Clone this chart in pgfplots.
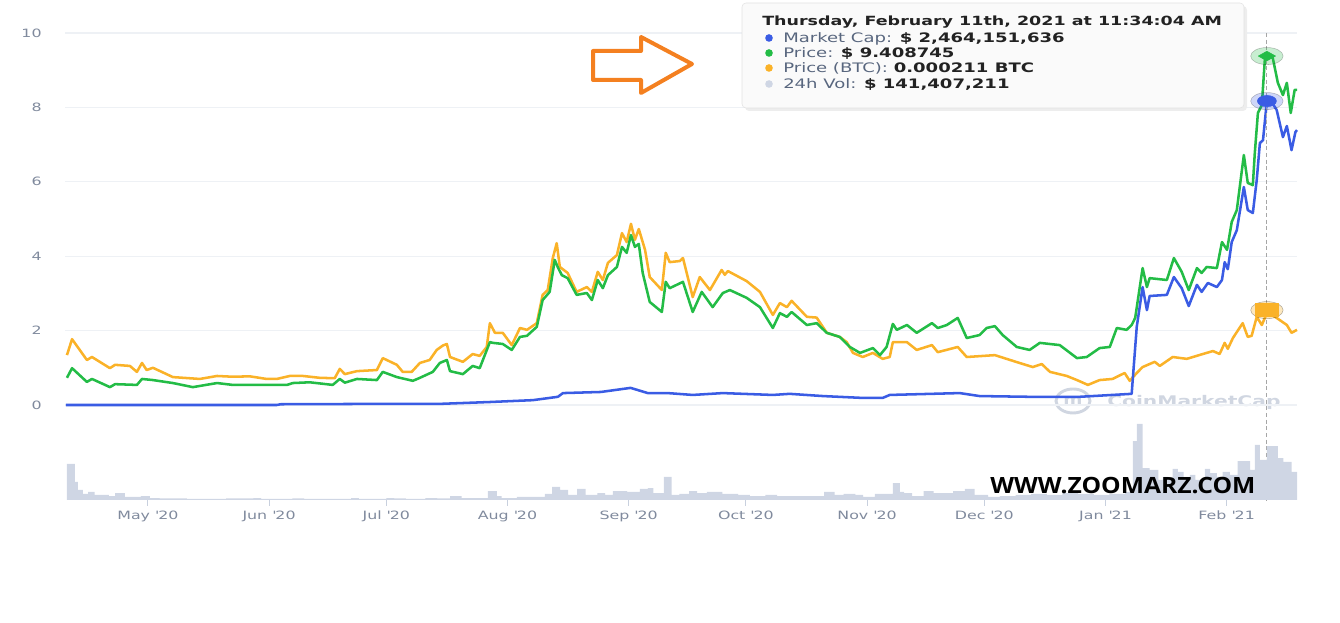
\documentclass[border=0pt]{standalone}
\usepackage{pgfplots}
\pgfplotsset{compat=1.18}
\usepackage{fontspec}
\setmainfont{DejaVu Sans}
\newfontfamily\cmc[FakeStretch=1.38]{DejaVu Sans}
\newfontfamily\zoomfont[FakeStretch=1.1]{Open Sans}
\definecolor{cblue}{RGB}{58,92,228}
\definecolor{cgreen}{RGB}{35,188,70}
\definecolor{corange}{RGB}{250,178,40}
\definecolor{cvol}{RGB}{207,214,228}
\definecolor{cgrid}{RGB}{238,241,245}
\definecolor{ctick}{RGB}{128,138,157}
\definecolor{ctickline}{RGB}{200,208,222}
\definecolor{carrow}{RGB}{244,128,32}
\definecolor{clab}{RGB}{88,102,126}
\definecolor{cval}{RGB}{34,34,34}
\definecolor{cwm}{RGB}{208,214,225}
\begin{document}
\begin{tikzpicture}
% 1 px of the reference = 0.75pt
\begin{scope}[x=0.75pt,y=0.75pt]
\path[use as bounding box] (0,0) rectangle (1340,623);
% CoinMarketCap watermark (behind the lines)
\draw[cwm, line width=2.2pt] (1073,222) ellipse [x radius=17, y radius=12];
\node[anchor=center, inner sep=0, text=cwm, font=\cmc\fontsize{10}{11}\selectfont\bfseries] at (1073,222) {m};
\node[anchor=west, inner sep=0, text=cwm, font=\cmc\fontsize{11}{12}\selectfont\bfseries] at (1107,221) {CoinMarketCap};
\end{scope}

% price chart (days counted from 1 May 2020)
\begin{axis}[
  at={(48.75pt,163.5pt)}, anchor=south west,
  scale only axis, width=924pt, height=279pt,
  xmin=-21.2, xmax=294, ymin=0, ymax=10,
  ytick={0,2,...,10}, xtick=\empty,
  ymajorgrids, grid style={draw=cgrid, line width=0.8pt},
  axis line style={draw=none}, tick style={draw=none},
  /pgf/number format/assume math mode=true,
  yticklabel style={font=\cmc\fontsize{8.6}{10}\selectfont, text=ctick, xshift=-14pt},
  clip=false,
  every axis plot post/.append style={line join=round},
]
\addplot[corange, line width=1.9pt] coordinates {
(-20.7,1.34) (-19.4,1.77) (-15.6,1.21) (-14.3,1.29) (-9.7,0.99) (-8.4,1.08) (-4.6,1.05) (-2.8,0.89) (-1.5,1.13) (-0.3,0.94) (1.3,1.00) (6.4,0.75) (13.3,0.70) (17.7,0.78) (21.7,0.76) (26.1,0.77) (30.4,0.70) (33.0,0.70) (36.3,0.78) (39.7,0.78) (44.0,0.73) (47.8,0.72) (49.1,0.97) (50.4,0.83) (53.5,0.91) (58.6,0.94) (60.1,1.26) (63.7,1.08) (65.2,0.89) (67.5,0.89) (69.6,1.13) (72.1,1.21) (73.9,1.48) (75.5,1.60) (76.5,1.64) (77.3,1.29) (80.6,1.16) (83.1,1.37) (84.9,1.32) (86.7,1.56) (87.5,2.20) (88.8,1.94) (90.8,1.94) (93.1,1.61) (95.2,2.07) (97.0,2.02) (99.5,2.20) (101.0,2.96) (102.3,3.09) (103.6,3.95) (104.6,4.35) (105.4,3.71) (107.4,3.55) (109.7,3.04) (112.3,3.17) (113.6,3.04) (115.1,3.58) (116.4,3.36) (117.7,3.82) (120.0,4.03) (121.3,4.62) (122.5,4.38) (123.6,4.87) (124.6,4.44) (125.6,4.73) (127.2,4.17) (128.4,3.44) (131.5,3.09) (132.5,4.09) (133.5,3.84) (136.1,3.87) (136.9,3.95) (139.4,2.90) (141.2,3.44) (143.8,3.09) (146.8,3.63) (147.6,3.50) (148.4,3.60) (153.2,3.33) (156.6,3.04) (159.9,2.42) (161.7,2.74) (163.5,2.63) (164.7,2.80) (168.6,2.37) (171.1,2.35) (173.7,1.94) (177.0,1.83) (178.8,1.69) (180.4,1.40) (182.9,1.29) (185.5,1.40) (188.0,1.24) (189.8,1.29) (190.6,1.69) (194.2,1.69) (196.7,1.48) (200.6,1.61) (202.1,1.42) (207.2,1.56) (209.5,1.29) (216.7,1.34) (223.0,1.13) (226.4,1.02) (228.7,1.10) (230.8,0.89) (235.1,0.78) (237.7,0.67) (240.5,0.54) (243.5,0.67) (246.8,0.70) (249.9,0.86) (251.2,0.65) (253.0,0.86) (254.5,1.02) (257.6,1.16) (258.9,1.05) (262.2,1.29) (265.8,1.24) (269.9,1.37) (272.5,1.45) (274.2,1.37) (275.5,1.67) (276.3,1.51) (277.6,1.80) (280.1,2.20) (281.4,1.83) (282.4,1.86) (283.7,2.37) (285.0,2.15) (286.3,2.47) (287.5,2.42) (288.8,2.34) (291.4,2.15) (292.6,1.94) (294.0,2.02)
};
\addplot[cgreen, line width=1.9pt] coordinates {
(-20.7,0.73) (-19.4,0.99) (-15.6,0.62) (-14.3,0.70) (-9.7,0.48) (-8.4,0.56) (-2.8,0.54) (-1.5,0.70) (1.3,0.67) (6.4,0.59) (11.5,0.48) (17.7,0.59) (21.7,0.54) (30.4,0.54) (35.6,0.54) (37.1,0.59) (41.4,0.61) (47.3,0.54) (49.1,0.70) (50.4,0.60) (53.5,0.70) (58.6,0.67) (60.1,0.89) (63.7,0.75) (67.8,0.65) (69.6,0.73) (72.9,0.89) (74.7,1.13) (76.5,1.21) (77.3,0.91) (80.6,0.83) (83.1,1.05) (84.9,0.99) (87.5,1.69) (88.3,1.67) (90.8,1.64) (93.1,1.48) (95.2,1.83) (97.0,1.86) (99.5,2.10) (101.0,2.82) (102.8,3.04) (104.1,3.90) (104.9,3.70) (105.9,3.49) (107.4,3.41) (109.7,2.96) (112.3,3.01) (113.6,2.82) (115.1,3.36) (116.4,3.14) (117.7,3.49) (120.0,3.71) (121.3,4.25) (122.5,4.09) (123.6,4.57) (124.6,4.25) (125.6,4.33) (126.6,3.55) (128.4,2.77) (131.5,2.50) (132.5,3.31) (133.5,3.14) (136.9,3.31) (139.4,2.50) (141.7,3.04) (144.5,2.63) (147.1,3.01) (148.9,3.09) (153.2,2.88) (156.6,2.63) (159.9,2.07) (161.7,2.47) (163.5,2.37) (164.7,2.50) (168.6,2.15) (171.1,2.20) (173.7,1.94) (177.0,1.83) (179.6,1.56) (182.2,1.40) (185.5,1.53) (187.3,1.34) (189.0,1.56) (190.6,2.18) (191.6,2.02) (194.2,2.15) (196.7,1.94) (200.6,2.20) (202.1,2.07) (204.4,2.15) (207.2,2.34) (209.5,1.80) (212.8,1.88) (214.6,2.07) (216.7,2.12) (218.7,1.88) (222.3,1.56) (225.6,1.48) (228.2,1.67) (233.3,1.61) (237.7,1.26) (240.2,1.29) (243.5,1.53) (246.1,1.56) (247.9,2.07) (250.4,2.02) (251.7,2.15) (252.6,2.34) (254.5,3.68) (255.6,3.17) (256.3,3.41) (260.7,3.36) (262.5,3.95) (264.5,3.58) (266.3,3.09) (268.4,3.68) (269.6,3.55) (270.9,3.71) (273.5,3.68) (274.8,4.38) (276.1,4.17) (277.3,4.92) (278.6,5.24) (280.4,6.72) (281.4,5.97) (282.7,5.91) (283.2,6.77) (284.0,7.85) (285.0,8.06) (285.8,9.33) (286.6,9.38) (287.8,9.33) (289.1,8.66) (290.4,8.33) (291.4,8.66) (292.4,7.85) (293.4,8.47) (294.0,8.47)
};
\addplot[cblue, line width=1.9pt] coordinates {
(-21.0,0.0) (33.0,0.0) (34.0,0.02) (60,0.03) (74.7,0.03) (87.5,0.08) (98.5,0.13) (104.9,0.22) (106.2,0.32) (115.9,0.35) (123.5,0.46) (127.9,0.32) (133.0,0.32) (139.4,0.27) (147.1,0.32) (159.9,0.27) (164.2,0.30) (172.7,0.24) (182.9,0.19) (188.0,0.19) (189.8,0.27) (207.7,0.32) (212.8,0.24) (225.6,0.22) (238.4,0.22) (251.7,0.30) (253.0,2.10) (254.5,3.17) (255.6,2.55) (256.3,2.93) (260.7,2.96) (262.5,3.44) (264.5,3.14) (266.3,2.66) (268.4,3.23) (269.6,3.04) (271.2,3.28) (273.5,3.17) (274.8,3.36) (275.5,3.84) (276.3,3.65) (277.3,4.38) (278.6,4.70) (280.4,5.86) (281.4,5.24) (282.7,5.16) (283.7,6.05) (284.5,7.04) (285.3,7.12) (286.3,8.17) (287.5,8.15) (288.8,7.93) (290.4,7.20) (291.4,7.50) (292.6,6.85) (293.6,7.34) (294.0,7.39)
};
% hover line and highlighted points (11 Feb 2021)
\addplot[gray!70, line width=0.7pt, dash pattern=on 3pt off 2pt] coordinates {(286.3,10) (286.3,-2.55)};
\addplot[only marks, mark=*, mark size=6.4pt, mark options={xscale=1.9, fill=cgreen, draw=none, opacity=0.25}] coordinates {(286.3,9.38)};
\addplot[only marks, mark=diamond*, mark size=3.6pt, mark options={xscale=2.4, fill=cgreen, draw=cgreen}] coordinates {(286.3,9.38)};
\addplot[only marks, mark=*, mark size=6.4pt, mark options={xscale=1.9, fill=cblue, draw=none, opacity=0.25}] coordinates {(286.3,8.17)};
\addplot[only marks, mark=*, mark size=4.2pt, mark options={xscale=1.7, fill=cblue, draw=cblue}] coordinates {(286.3,8.17)};
\addplot[only marks, mark=*, mark size=6.4pt, mark options={xscale=1.9, fill=corange, draw=none, opacity=0.3}] coordinates {(286.3,2.55)};
\addplot[only marks, mark=square*, mark size=4.9pt, mark options={xscale=1.75, fill=corange, draw=corange}] coordinates {(286.3,2.55)};
\end{axis}

% 24h volume
\begin{axis}[
  at={(48.75pt,92.25pt)}, anchor=south west,
  scale only axis, width=924pt, height=60pt,
  xmin=-21.2, xmax=294, ymin=0, ymax=208,
  ytick=\empty,
  xtick={0,31,61,92,123,153,184,214,245,276},
  xticklabels={May \textquotesingle20, Jun \textquotesingle20, Jul \textquotesingle20, Aug \textquotesingle20, Sep \textquotesingle20, Oct \textquotesingle20, Nov \textquotesingle20, Dec \textquotesingle20, Jan \textquotesingle21, Feb \textquotesingle21},
  xtick pos=left, tick align=outside, major tick length=4.5pt,
  tick style={draw=ctickline, line width=0.8pt},
  axis line style={draw=none},
  xticklabel style={font=\cmc\fontsize{8.6}{10}\selectfont, text=ctick},
]
\addplot[const plot, fill=cvol, draw=none] coordinates {
(-20.7,94) (-18.7,47) (-17.9,26) (-16.6,16) (-15.3,21) (-13.6,13) (-10,10) (-8.4,18) (-5.9,8) (-1.8,10) (0.5,5) (3,4) (10,3) (20,4) (27,5) (29,3) (37,4) (40,3) (48,3) (52,5) (54,3) (61,5) (63,4) (66,3) (71,5) (74,4) (77.3,10) (80.3,5) (83.7,5) (87,23) (89.3,10) (90.5,5) (94.4,8) (98.5,8) (101.6,16) (103.4,34) (105.5,26) (107.5,13) (109.8,29) (112,13) (115,18) (117,13) (119,23) (122.6,21) (125.9,29) (127.9,31) (129.3,18) (132,60) (134,13) (136,16) (138.5,23) (140.5,18) (143,21) (147,16) (151,13) (154,10) (158,13) (161,10) (165,10) (169,10) (173,21) (175.7,13) (178,16) (181,13) (183,8) (186,16) (189.5,16) (190.6,44) (192.4,21) (193.5,18) (195.5,10) (198.5,23) (201,18) (206,23) (209,29) (211.5,13) (215,8) (218,10) (222,13) (226,16) (230,13) (234,18) (238,16) (242,13) (246,16) (250,21) (252,153) (253,198) (254.5,83) (256.3,78) (258.5,52) (259.7,60) (261,52) (262.2,81) (263.5,73) (265,60) (266.6,65) (268,52) (270.4,81) (271.8,70) (273.5,60) (275,73) (276.8,65) (278.8,101) (282,78) (283.2,143) (284.5,104) (286.3,140) (289.1,109) (290.5,99) (292.6,73) (294,73)
} \closedcycle;
\end{axis}

\begin{scope}[x=0.75pt,y=0.75pt]
% tooltip
\fill[black!7, rounded corners=3] (745,512) rectangle (1247,617);
\filldraw[fill={rgb,255:red,250;green,250;blue,250}, draw={rgb,255:red,226;green,226;blue,226}, rounded corners=3] (742,515) rectangle (1244,620);
\node[anchor=base west, inner sep=0, text=cval, font=\cmc\fontsize{9.5}{12}\selectfont\bfseries] at (762,597) {Thursday, February 11th, 2021 at 11:34:04 AM};
\fill[cblue] (769,585) circle[radius=3.8];
\fill[cgreen] (769,570) circle[radius=3.8];
\fill[corange] (769,555) circle[radius=3.8];
\fill[cvol] (769,539) circle[radius=3.8];
\node[anchor=base west, inner sep=0, font=\cmc\fontsize{9.8}{12}\selectfont] at (783,580) {\textcolor{clab}{Market Cap: }\textcolor{cval}{\bfseries\$ 2,464,151,636}};
\node[anchor=base west, inner sep=0, font=\cmc\fontsize{9.8}{12}\selectfont] at (783,565) {\textcolor{clab}{Price: }\textcolor{cval}{\bfseries\$ 9.408745}};
\node[anchor=base west, inner sep=0, font=\cmc\fontsize{9.8}{12}\selectfont] at (783,550) {\textcolor{clab}{Price (BTC): }\textcolor{cval}{\bfseries 0.000211 BTC}};
\node[anchor=base west, inner sep=0, font=\cmc\fontsize{9.8}{12}\selectfont] at (783,534) {\textcolor{clab}{24h Vol: }\textcolor{cval}{\bfseries\$ 141,407,211}};
% orange arrow
\draw[carrow, line width=3pt, line join=round] (593,572) -- (641,572) -- (641,586) -- (692,559) -- (641,530) -- (641,543) -- (593,543) -- cycle;
% site watermark
\node[anchor=west, inner sep=0, text=black, font=\zoomfont\fontsize{16.8}{18}\selectfont\bfseries] at (990,137) {WWW.ZOOMARZ.COM};
\end{scope}
\end{tikzpicture}
\end{document}
